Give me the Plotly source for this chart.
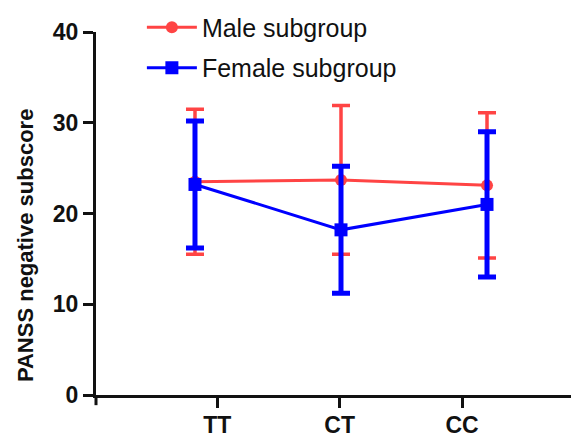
import plotly.graph_objects as go

categories = ["TT", "CT", "CC"]
male_mean = [23.5, 23.7, 23.1]
male_err = [8.0, 8.2, 8.0]
female_mean = [23.2, 18.2, 21.0]
female_err = [7.0, 7.0, 8.0]
y_ticks = [0, 10, 20, 30, 40]

RED = "rgb(255,68,68)"
BLUE = "rgb(0,0,255)"
AX = "#111111"
FONT = "Liberation Sans, Arial, sans-serif"

fig = go.Figure()
# invisible anchor trace so the tick axis (x) is drawn
fig.add_trace(go.Scatter(
    x=list(range(len(categories))), y=[None] * len(categories), xaxis="x", yaxis="y",
    mode="markers", showlegend=False, hoverinfo="skip", marker=dict(opacity=0),
))
fig.add_trace(go.Scatter(
    x=categories, y=male_mean, name="Male subgroup", xaxis="x2", yaxis="y",
    mode="lines+markers", legendgroup="m",
    line=dict(color=RED, width=3),
    marker=dict(symbol="circle", size=12, color=RED),
    error_y=dict(type="data", array=male_err, visible=True, color=RED, thickness=3.5, width=9),
))
fig.add_trace(go.Scatter(
    x=categories, y=female_mean, name="Female subgroup", xaxis="x2", yaxis="y",
    mode="lines+markers", legendgroup="f",
    line=dict(color=BLUE, width=3),
    marker=dict(symbol="square", size=13, color=BLUE),
    error_y=dict(type="data", array=female_err, visible=True, color=BLUE, thickness=5, width=9),
))

# page body has an 8px margin; figure is sized to fill the remaining window
fig.update_layout(
    width=571, height=431,
    margin=dict(l=88, r=0, t=24, b=44, autoexpand=False),
    paper_bgcolor="white", plot_bgcolor="white",
    font=dict(family=FONT, color="#111111"),
    showlegend=True,
    legend=dict(x=0.095, y=1.076, xanchor="left", yanchor="top",
                font=dict(size=25, family=FONT, color="#111111"),
                traceorder="grouped", tracegroupgap=5,
                bgcolor="rgba(0,0,0,0)", itemwidth=50),
    xaxis=dict(
        range=[-0.99, 2.955], tickmode="array",
        tickvals=list(range(len(categories))), ticktext=categories,
        showgrid=False, zeroline=False, showline=True, linecolor=AX, linewidth=3,
        ticks="outside", ticklen=10, tickwidth=3, tickcolor=AX,
        tickfont=dict(size=23, family=FONT, weight="bold", color="#111111"),
        ticklabelstandoff=-3,
    ),
    xaxis2=dict(
        type="category", categoryorder="array", categoryarray=categories,
        range=[-0.678, 2.63], overlaying="x", anchor="y", visible=False,
        showgrid=False, zeroline=False,
    ),
    yaxis=dict(
        range=[0, 40], tickmode="array", tickvals=y_ticks,
        showgrid=False, zeroline=False, showline=True, linecolor=AX, linewidth=3,
        ticks="outside", ticklen=10, tickwidth=3, tickcolor=AX,
        tickfont=dict(size=23, family=FONT, weight="bold", color="#111111"),
    ),
    annotations=[dict(
        text="PANSS negative subscore", textangle=-90, showarrow=False,
        xref="paper", yref="paper", x=-0.147, y=0.413,
        xanchor="center", yanchor="middle",
        font=dict(size=22, family=FONT, weight="bold", color="#111111"),
    )],
    shapes=[dict(type="line", xref="paper", yref="paper", x0=0, x1=0, y0=0, y1=-0.028,
                 line=dict(color=AX, width=3))],
)

fig.write_html("out.html")
